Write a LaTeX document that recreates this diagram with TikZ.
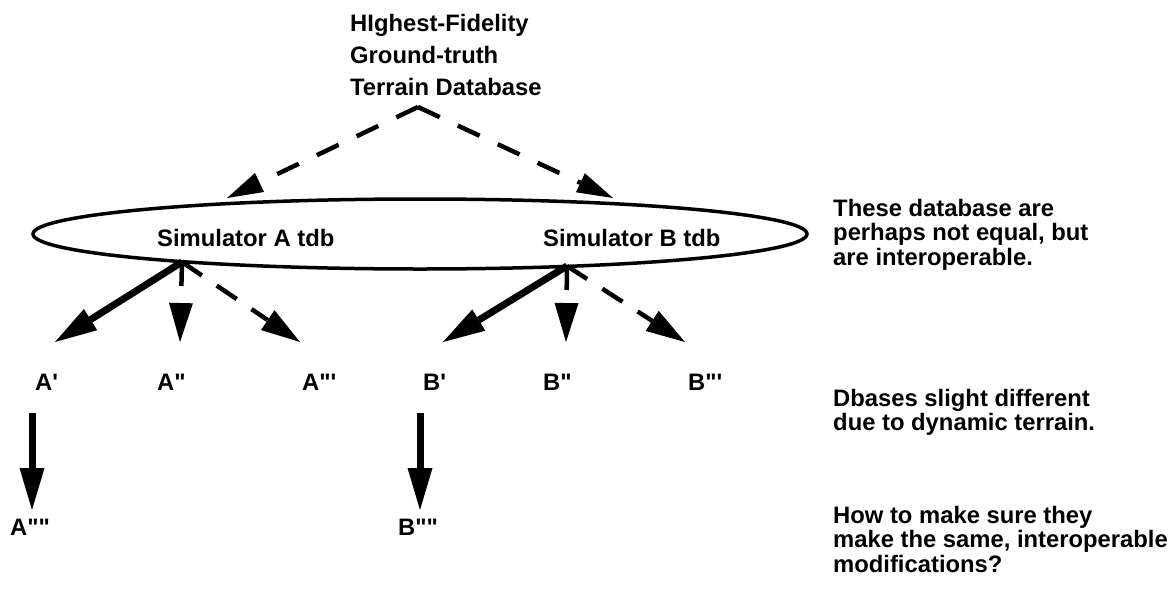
\documentclass[tikz,border=0pt]{standalone}
\usepackage{fontspec}
\setmainfont{Liberation Sans}[Ligatures=TeXOff]
\usetikzlibrary{arrows.meta,shapes.geometric}
\begin{document}
\begin{tikzpicture}[x=1pt,y=-1pt,
  txt/.style={font=\fontsize{23.8}{24.5}\selectfont\bfseries, inner sep=0pt, align=left},
  lbl/.style={font=\fontsize{23.8}{24.5}\selectfont\bfseries, inner sep=0pt, anchor=west},
  solidarrow/.style={line width=7pt, -{Triangle[length=42pt,width=25pt,line width=0pt 0]}},
  dasharrow/.style={line width=4.5pt, dash pattern=on 24pt off 18pt, -{Triangle[length=39pt,width=24pt,line width=0pt 0]}},
  topdash/.style={line width=4.5pt, dash pattern=on 24pt off 20pt, -{Triangle[length=36pt,width=21pt,line width=0pt 0]}},
]
\useasboundingbox (0,0) rectangle (1172,600);

% top source
\node[txt, anchor=north west, font=\fontsize{23.8}{32}\selectfont\bfseries] (top) at (350,14)
  {HIghest-Fidelity\\Ground-truth\\Terrain Database};

% ellipse of simulator databases
\node[draw, ellipse, line width=3.5pt, minimum width=774pt, minimum height=70pt, inner sep=0pt] (db) at (420,234) {};
\node[lbl] (simA) at (157,238) {Simulator A tdb};
\node[lbl] (simB) at (543,238) {Simulator B tdb};

% top dashed arrows
\coordinate (apex) at (418,107);
\coordinate (tA) at (227,198);
\coordinate (tB) at (613,198);
\draw[topdash] (apex) -- (tA);
\draw[topdash] (apex) -- (tB);

% labels
\node[lbl] (A1) at (35,382) {A'};
\node[lbl] (A2) at (157,382) {A"};
\node[lbl] (A3) at (302,382) {A"'};
\node[lbl] (B1) at (423,382) {B'};
\node[lbl] (B2) at (543,382) {B"};
\node[lbl] (B3) at (688,382) {B"'};
\node[lbl] (A4) at (10,527) {A""};
\node[lbl] (B4) at (398,527) {B""};

% arrows from ellipse
\coordinate (oA) at (182,262);
\coordinate (oB) at (567,266);
\coordinate (pA1) at (55,342);
\coordinate (pA2) at (180,342);
\coordinate (pA3) at (300,342);
\coordinate (pB1) at (443,342);
\coordinate (pB2) at (566,342);
\coordinate (pB3) at (685,342);
\draw[solidarrow] (oA) -- (pA1);
\draw[dasharrow] (oA) -- (pA2);
\draw[dasharrow] (oA) -- (pA3);
\draw[solidarrow] (oB) -- (pB1);
\draw[dasharrow] (oB) -- (pB2);
\draw[dasharrow] (oB) -- (pB3);

% vertical arrows
\coordinate (sA) at (32,413);
\coordinate (eA) at (32,510);
\coordinate (sB) at (420,413);
\coordinate (eB) at (420,510);
\draw[solidarrow] (sA) -- (eA);
\draw[solidarrow] (sB) -- (eB);

% right notes
\node[txt, anchor=north west] (n1) at (833,199)
  {These database are\\perhaps not equal, but\\are interoperable.};
\node[txt, anchor=north west] (n2) at (833,389)
  {Dbases slight different\\due to dynamic terrain.};
\node[txt, anchor=north west] (n3) at (833,506)
  {How to make sure they\\make the same, interoperable\\modifications?};
\end{tikzpicture}
\end{document}
